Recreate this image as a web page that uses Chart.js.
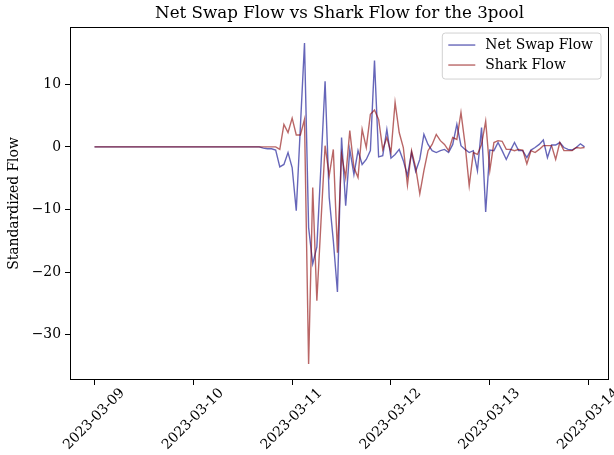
<!DOCTYPE html>
<html>
<head>
<meta charset="utf-8">
<script src="https://cdn.jsdelivr.net/npm/chart.js@4.4.1/dist/chart.umd.min.js"></script>
<style>
  html, body { margin: 0; padding: 0; background: #ffffff; }
  #wrap { width: 614px; height: 455px; }
</style>
</head>
<body>
<div id="wrap"><canvas id="flowChart" width="614" height="455"></canvas></div>
<script>
// Hourly observations starting 2023-03-09 00:00 (index = hours since start)
const startDay = '2023-03-09';
const dayTickLabels = ['2023-03-09', '2023-03-10', '2023-03-11', '2023-03-12', '2023-03-13', '2023-03-14'];
const hoursPerDay = 24;

const netSwapFlow = [
  0, 0, 0, 0, 0, 0, 0, 0, 0, 0, 0, 0, 0, 0, 0, 0, 0, 0, 0, 0,
  0, 0, 0, 0, 0, 0, 0, 0, 0, 0, 0, 0, 0, 0, 0, 0, 0, 0, 0, 0,
  0, -0.2, -0.3, -0.3, -0.5, -3.2, -2.8, -0.9, -3.3, -10.2,
  3.2, 16.6, -12.9, -18.7, -16.0, -3.0, 10.5, -8.1, -15.0, -23.2,
  1.5, -9.4, -0.4, -4.4, -0.6, -2.8, -2.0, -0.6, 13.8, -1.6,
  -1.4, 2.8, -1.8, -1.2, -0.4, -2.2, -4.6, -0.9, -3.9, -2.0,
  2.0, 0.4, -0.6, -0.9, -0.6, -0.4, -0.9, 0.4, 3.6, 0.2,
  -0.4, -0.9, -0.6, -3.8, 3.1, -10.4, -0.5, -0.6, 0.7, -0.6,
  -2.0, -0.6, 0.7, -0.6, -0.6, -1.7, -0.5, -0.1, 0.4, 1.1,
  -1.7, 0.3, 0.3, 0.7, -0.1, -0.4, -0.5, -0.1, 0.5, 0.0
];

const sharkFlow = [
  0, 0, 0, 0, 0, 0, 0, 0, 0, 0, 0, 0, 0, 0, 0, 0, 0, 0, 0, 0,
  0, 0, 0, 0, 0, 0, 0, 0, 0, 0, 0, 0, 0, 0, 0, 0, 0, 0, 0, 0,
  0, 0, 0, 0, 0, -0.4, 3.6, 2.3, 4.6, 1.9,
  1.9, 4.4, -34.7, -6.5, -24.6, -12.0, 0.2, -4.6, -0.4, -16.9,
  -1.2, -4.9, 2.6, -3.3, -4.9, 2.8, -0.1, 5.2, 5.9, 4.4,
  -0.4, 1.5, -0.9, 7.1, 2.3, -0.1, -6.1, -0.6, -3.3, -7.5,
  -3.8, -0.6, 0.4, 2.0, 1.0, 0.4, -0.6, 1.5, 1.2, 5.5,
  0.4, -6.2, -0.9, -1.2, 0.4, 4.1, -3.8, 0.7, 1.0, 0.9,
  -0.4, -0.4, -0.6, -0.4, -0.5, -2.7, -0.6, -0.9, -0.4, 0.2,
  0.2, 0.2, -2.0, 0.7, -0.6, -0.6, -0.6, -0.1, -0.2, -0.1
];

const yTickValues = [-30, -20, -10, 0, 10];

const serif = '"DejaVu Serif", "Liberation Serif", serif';
const labelSize = 13.9;
const blueLine = 'rgba(0, 0, 139, 0.6)';
const redLine = 'rgba(139, 0, 0, 0.6)';

const toPoints = arr => arr.map((v, i) => ({ x: i, y: v }));

// axis limits with a 5% margin around the data
const lastHour = netSwapFlow.length - 1;
const allVals = netSwapFlow.concat(sharkFlow);
const yLo = Math.min(...allVals), yHi = Math.max(...allVals);
const yPad = (yHi - yLo) * 0.05;
const xPad = lastHour * 0.05;

const whiteBackground = {
  id: 'whiteBackground',
  beforeDraw(chart) {
    const { ctx, width, height } = chart;
    ctx.save();
    ctx.fillStyle = '#ffffff';
    ctx.fillRect(0, 0, width, height);
    ctx.restore();
  }
};

// four-sided black frame around the plotting area
const axesFrame = {
  id: 'axesFrame',
  afterDraw(chart) {
    const { ctx, chartArea: a } = chart;
    ctx.save();
    ctx.strokeStyle = '#000000';
    ctx.lineWidth = 1;
    ctx.strokeRect(Math.round(a.left) + 0.5, Math.round(a.top) + 0.5,
                   Math.round(a.right - a.left) - 1, Math.round(a.bottom - a.top) - 1);
    ctx.restore();
  }
};

// legend box drawn inside the upper-right corner of the plot
const insetLegend = {
  id: 'insetLegend',
  afterDraw(chart) {
    const { ctx, chartArea: a } = chart;
    const sets = chart.data.datasets;
    ctx.save();
    ctx.font = labelSize + 'px ' + serif;
    const textW = Math.max(...sets.map(d => ctx.measureText(d.label).width));
    const lineLen = 27, gapAfterLine = 10, padL = 6, padR = 8, rowH = 20;
    const w = padL + lineLen + gapAfterLine + textW + padR;
    const h = rowH * sets.length + 6;
    const x = a.right - 8 - w;
    const y = a.top + 6;
    const r = 3;
    ctx.beginPath();
    ctx.moveTo(x + r, y);
    ctx.lineTo(x + w - r, y);
    ctx.arcTo(x + w, y, x + w, y + r, r);
    ctx.lineTo(x + w, y + h - r);
    ctx.arcTo(x + w, y + h, x + w - r, y + h, r);
    ctx.lineTo(x + r, y + h);
    ctx.arcTo(x, y + h, x, y + h - r, r);
    ctx.lineTo(x, y + r);
    ctx.arcTo(x, y, x + r, y, r);
    ctx.closePath();
    ctx.fillStyle = 'rgba(255,255,255,0.8)';
    ctx.fill();
    ctx.strokeStyle = 'rgba(204,204,204,0.9)';
    ctx.lineWidth = 1;
    ctx.stroke();
    sets.forEach((d, i) => {
      const cy = y + 12 + i * rowH;
      ctx.beginPath();
      ctx.moveTo(x + padL, cy);
      ctx.lineTo(x + padL + lineLen, cy);
      ctx.strokeStyle = d.borderColor;
      ctx.lineWidth = 1.4;
      ctx.stroke();
      ctx.fillStyle = '#000000';
      ctx.textBaseline = 'middle';
      ctx.textAlign = 'left';
      ctx.fillText(d.label, x + padL + lineLen + gapAfterLine, cy);
    });
    ctx.restore();
  }
};

new Chart(document.getElementById('flowChart'), {
  type: 'line',
  data: {
    datasets: [
      {
        label: 'Net Swap Flow',
        data: toPoints(netSwapFlow),
        borderColor: blueLine,
        borderWidth: 1.4,
        pointRadius: 0,
        tension: 0,
        fill: false,
        order: 1
      },
      {
        label: 'Shark Flow',
        data: toPoints(sharkFlow),
        borderColor: redLine,
        borderWidth: 1.4,
        pointRadius: 0,
        tension: 0,
        fill: false,
        order: 0
      }
    ]
  },
  options: {
    responsive: false,
    animation: false,
    devicePixelRatio: 1,
    layout: { padding: { left: 0, right: 5, top: 0, bottom: 0 } },
    plugins: {
      legend: { display: false },
      tooltip: { enabled: false },
      title: {
        display: true,
        text: 'Net Swap Flow vs Shark Flow for the 3pool',
        fullSize: false,
        color: '#000000',
        font: { family: serif, size: 16.7, weight: 'normal', lineHeight: 1.2 },
        padding: { top: 4, bottom: 3 }
      }
    },
    scales: {
      x: {
        type: 'linear',
        min: -xPad,
        max: lastHour + xPad,
        afterBuildTicks(scale) {
          scale.ticks = dayTickLabels.map((_, i) => ({ value: i * hoursPerDay }));
        },
        afterFit(scale) {
          scale.height = 75;
          scale.paddingLeft = 0;
          scale.paddingRight = 0;
        },
        grid: {
          display: true,
          drawOnChartArea: false,
          drawTicks: true,
          tickLength: 5,
          tickColor: '#000000',
          tickWidth: 1
        },
        border: { display: false },
        ticks: {
          autoSkip: false,
          minRotation: 45,
          maxRotation: 45,
          labelOffset: 28,
          padding: 0,
          color: '#000000',
          font: { family: serif, size: labelSize },
          callback(value) {
            const idx = Math.round(value / hoursPerDay);
            return dayTickLabels[idx] !== undefined ? dayTickLabels[idx] : '';
          }
        }
      },
      y: {
        type: 'linear',
        min: yLo - yPad,
        max: yHi + yPad,
        afterBuildTicks(scale) {
          scale.ticks = yTickValues.map(v => ({ value: v }));
        },
        afterFit(scale) {
          scale.width = 70;
          scale.paddingTop = 0;
          scale.paddingBottom = 0;
        },
        grid: {
          display: true,
          drawOnChartArea: false,
          drawTicks: true,
          tickLength: 5,
          tickColor: '#000000',
          tickWidth: 1
        },
        border: { display: false },
        title: {
          display: true,
          text: 'Standardized Flow',
          color: '#000000',
          font: { family: serif, size: labelSize, lineHeight: 1.2 },
          padding: { top: 6, bottom: 0 }
        },
        ticks: {
          padding: 4,
          color: '#000000',
          font: { family: serif, size: labelSize },
          callback(value) {
            return String(value).replace('-', '\u2212');
          }
        }
      }
    }
  },
  plugins: [whiteBackground, axesFrame, insetLegend]
});
</script>
</body>
</html>
